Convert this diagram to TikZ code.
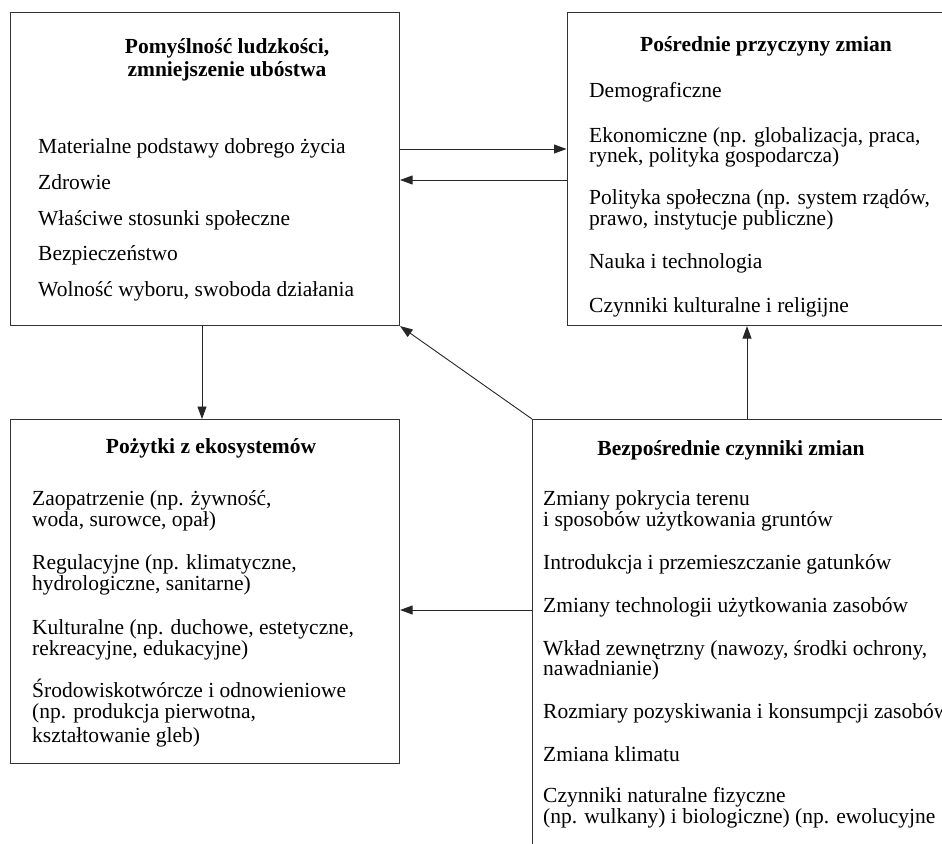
\documentclass[tikz,border=0pt]{standalone}
\usepackage{fontspec}
\setmainfont{Liberation Serif}
\usepackage{tikz}
\usetikzlibrary{arrows.meta}

\newcommand{\boxfont}{\fontsize{21.5}{21.5}\selectfont}

\begin{document}
\begin{tikzpicture}[x=1pt,y=-1pt]
\useasboundingbox (0,0) rectangle (942,843);
\clip (0,0) rectangle (942,843);
\begin{scope}[every node/.style={rectangle,draw=black!80,line width=1.1pt,anchor=north west,inner sep=0pt}]
    \node[minimum width=389pt,minimum height=313pt] (wellbeing) at (10,12) {};
    \node[minimum width=420pt,minimum height=313pt] (indirect) at (566.5,12) {};
    \node[minimum width=389pt,minimum height=344pt] (services) at (10,419) {};
    \node[minimum width=450pt,minimum height=460pt] (direct) at (532,419) {};
\end{scope}
\begin{scope}[every node/.style={font=\boxfont\bfseries,anchor=base,inner sep=0pt}]
    \node (wellbeing_t1) at (227,54) {Pomyślność ludzkości,};
    \node (wellbeing_t2) at (227,77) {zmniejszenie ubóstwa};
    \node (indirect_t) at (766,52) {Pośrednie przyczyny zmian};
    \node (services_t) at (211,453) {Pożytki z ekosystemów};
    \node (direct_t) at (731,455) {Bezpośrednie czynniki zmian};
\end{scope}
\begin{scope}[every node/.style={font=\boxfont,anchor=base west,inner sep=0pt}]
    % human well-being
    \node (wb1) at (38,153) {Materialne podstawy dobrego życia};
    \node (wb2) at (38,189) {Zdrowie};
    \node (wb3) at (38,225) {Właściwe stosunki społeczne};
    \node (wb4) at (38,260) {Bezpieczeństwo};
    \node (wb5) at (38,296) {Wolność wyboru, swoboda działania};
    % indirect drivers
    \node (in1) at (589,97) {Demograficzne};
    \node (in2) at (589,142) {Ekonomiczne (np. globalizacja, praca,};
    \node (in2b) at (589,162) {rynek, polityka gospodarcza)};
    \node (in3) at (589,204) {Polityka społeczna (np. system rządów,};
    \node (in3b) at (589,225) {prawo, instytucje publiczne)};
    \node (in4) at (589,268) {Nauka i technologia};
    \node (in5) at (589,312) {Czynniki kulturalne i religijne};
    % ecosystem services
    \node (es1) at (32,505) {Zaopatrzenie (np. żywność,};
    \node (es1b) at (32,526) {woda, surowce, opał)};
    \node (es2) at (32,569) {Regulacyjne (np. klimatyczne,};
    \node (es2b) at (32,590) {hydrologiczne, sanitarne)};
    \node (es3) at (32,634) {Kulturalne (np. duchowe, estetyczne,};
    \node (es3b) at (32,655) {rekreacyjne, edukacyjne)};
    \node (es4) at (32,697) {Środowiskotwórcze i odnowieniowe};
    \node (es4b) at (32,718) {(np. produkcja pierwotna,};
    \node (es4c) at (32,742) {kształtowanie gleb)};
    % direct drivers
    \node (dd1) at (543,505) {Zmiany pokrycia terenu};
    \node (dd1b) at (543,526) {i sposobów użytkowania gruntów};
    \node (dd2) at (543,569) {Introdukcja i przemieszczanie gatunków};
    \node (dd3) at (543,612) {Zmiany technologii użytkowania zasobów};
    \node (dd4) at (543,655) {Wkład zewnętrzny (nawozy, środki ochrony,};
    \node (dd4b) at (543,675) {nawadnianie)};
    \node (dd5) at (543,718) {Rozmiary pozyskiwania i konsumpcji zasobów};
    \node (dd6) at (543,761) {Zmiana klimatu};
    \node (dd7) at (543,802) {Czynniki naturalne fizyczne};
    \node (dd7b) at (543,823) {(np. wulkany) i biologiczne) (np. ewolucyjne};
\end{scope}
\begin{scope}[>={Triangle[length=12.5pt,width=9pt]},
              every edge/.style={draw=black!85,line width=0.9pt}]
    \path [->] (wellbeing.east |- 0,149) edge (indirect.west |- 0,149);
    \path [->] (indirect.west |- 0,180) edge (wellbeing.east |- 0,180);
    \path [->] (wellbeing.south -| 202,0) edge (services.north -| 202,0);
    \path [->] (direct.north west) edge (wellbeing.south east);
    \path [->] (direct.north -| 747,0) edge (indirect.south -| 747,0);
    \path [->] (direct.west |- 0,610) edge (services.east |- 0,610);
\end{scope}
\end{tikzpicture}
\end{document}
